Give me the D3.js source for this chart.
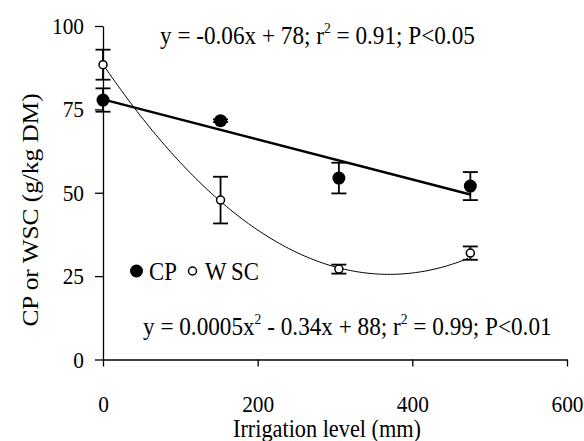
<!DOCTYPE html>
<meta charset="utf-8">
<script src="https://cdn.jsdelivr.net/npm/d3@7"></script>
<style>
body { margin: 0; background: #fff; }
text { font-family: "Liberation Serif", "Times New Roman", serif; fill: #000; }
.axis path, .axis line { stroke: #000; stroke-width: 1.3px; }
</style>
<body>
<script>

// irrigation levels (mm) and treatment means
var irrigation = [0, 152, 305, 475];
var cpMean  = [77.8, 71.6, 54.4, 52.0];
var cpErr   = [3.5, 0.4, 4.6, 4.2];
var wscMean = [88.4, 47.8, 27.1, 31.9];
var wscErr  = [4.5, 7.0, 1.35, 2.0];

// regression coefficients for the two fitted lines
var cpFit  = {a: 78, b: -0.06};                 // y = a + b x
var wscFit = {a: 88.5, b: -0.3404, c: 0.00046}; // y = a + b x + c x^2

var xTicks = [0, 200, 400, 600];
var yTicks = [0, 25, 50, 75, 100];

var width = 584,
    height = 441,
    sx = 0.91,   // text in the original is slightly squeezed sideways
    serif = '"Liberation Serif", "Times New Roman", serif';

var x = d3.scaleLinear().domain([0, 600]).range([103, 567]);
var y = d3.scaleLinear().domain([0, 100]).range([359.5, 26]);

var svg = d3.select("body").append("svg")
    .attr("width", width)
    .attr("height", height);

// axes
var yAxis = svg.append("g")
    .attr("class", "axis")
    .attr("transform", "translate(" + x(0) + ",0)")
    .call(d3.axisLeft(y).tickValues(yTicks).tickSize(8).tickSizeOuter(0))
    .attr("font-family", serif);

yAxis.selectAll("text")
    .style("font-family", serif)
    .attr("font-size", 23.5)
    .attr("x", -19 / sx)
    .attr("transform", "scale(" + sx + ",1)");

var xAxis = svg.append("g")
    .attr("class", "axis")
    .attr("transform", "translate(0," + y(0) + ")")
    .call(d3.axisBottom(x).tickValues(xTicks).tickSize(7).tickSizeOuter(0))
    .attr("font-family", serif);

xAxis.selectAll("text")
    .style("font-family", serif)
    .attr("font-size", 23.5)
    .attr("y", 52.5)
    .attr("dy", null)
    .attr("transform", "scale(" + sx + ",1)");

svg.selectAll(".axis .domain").attr("fill", "none");

// fitted lines
var wscCurve = d3.line()
    .x(function(d) { return x(d); })
    .y(function(d) { return y(wscFit.a + wscFit.b * d + wscFit.c * d * d); });

svg.append("path")
    .datum(d3.range(0, irrigation[3] + 1, 4))
    .attr("d", wscCurve)
    .attr("fill", "none")
    .attr("stroke", "#000")
    .attr("stroke-width", 1);

var xEnds = [irrigation[0], irrigation[3]];
svg.append("line")
    .attr("x1", x(xEnds[0]))
    .attr("y1", y(cpFit.a + cpFit.b * xEnds[0]))
    .attr("x2", x(xEnds[1]))
    .attr("y2", y(cpFit.a + cpFit.b * xEnds[1]))
    .attr("stroke", "#000")
    .attr("stroke-width", 2.5);

// error bars
function errorBars(means, errs) {
  var g = svg.append("g")
      .attr("stroke", "#000")
      .attr("stroke-width", 1.8);
  irrigation.forEach(function(d, i) {
    var lo = y(means[i] - errs[i]),
        hi = y(means[i] + errs[i]),
        cx = x(d);
    g.append("line").attr("x1", cx).attr("x2", cx).attr("y1", lo).attr("y2", hi);
    g.append("line").attr("x1", cx - 7.5).attr("x2", cx + 7.5).attr("y1", lo).attr("y2", lo);
    g.append("line").attr("x1", cx - 7.5).attr("x2", cx + 7.5).attr("y1", hi).attr("y2", hi);
  });
}
errorBars(wscMean, wscErr);
errorBars(cpMean, cpErr);

// points
svg.append("g").selectAll("circle")
    .data(irrigation)
  .enter().append("circle")
    .attr("cx", function(d) { return x(d); })
    .attr("cy", function(d, i) { return y(wscMean[i]); })
    .attr("r", 4)
    .attr("fill", "#fff")
    .attr("stroke", "#000")
    .attr("stroke-width", 1.5);

svg.append("g").selectAll("circle")
    .data(irrigation)
  .enter().append("circle")
    .attr("cx", function(d) { return x(d); })
    .attr("cy", function(d, i) { return y(cpMean[i]); })
    .attr("r", 6.5)
    .attr("fill", "#000");

// text helper, squeezed horizontally
function label(px, py, size) {
  return svg.append("text")
      .attr("font-size", size)
      .attr("transform", "translate(" + px + "," + py + ") scale(" + sx + ",1)");
}

// equations
var eq1 = label(160, 43.5, 25.5);
eq1.append("tspan").text("y = -0.06x + 78; r");
eq1.append("tspan").attr("dy", -11).attr("font-size", 15).text("2");
eq1.append("tspan").attr("dy", 11).text(" = 0.91; P<0.05");

var eq2 = label(143, 335, 25.5);
eq2.append("tspan").text("y = 0.0005x");
eq2.append("tspan").attr("dy", -11).attr("font-size", 15).text("2");
eq2.append("tspan").attr("dy", 11).text(" - 0.34x + 88; r");
eq2.append("tspan").attr("dy", -11).attr("font-size", 15).text("2");
eq2.append("tspan").attr("dy", 11).text(" = 0.99; P<0.01");

// legend
svg.append("circle").attr("cx", 136.5).attr("cy", 271).attr("r", 6.5).attr("fill", "#000");
label(149, 280, 25).text("CP");
svg.append("circle").attr("cx", 192.5).attr("cy", 271).attr("r", 4)
    .attr("fill", "#fff").attr("stroke", "#000").attr("stroke-width", 1.5);
var wl = label(205, 280, 25);
wl.append("tspan").text("W");
wl.append("tspan").attr("dx", 5).text("SC");

// axis titles
label(327, 437, 24.5).attr("text-anchor", "middle").text("Irrigation level (mm)");

svg.append("text")
    .attr("font-size", 25.3)
    .attr("text-anchor", "middle")
    .attr("transform", "translate(38,210) scale(" + sx + ",1) rotate(-90)")
    .text("CP or WSC (g/kg DM)");

</script>
</body>
</html>
